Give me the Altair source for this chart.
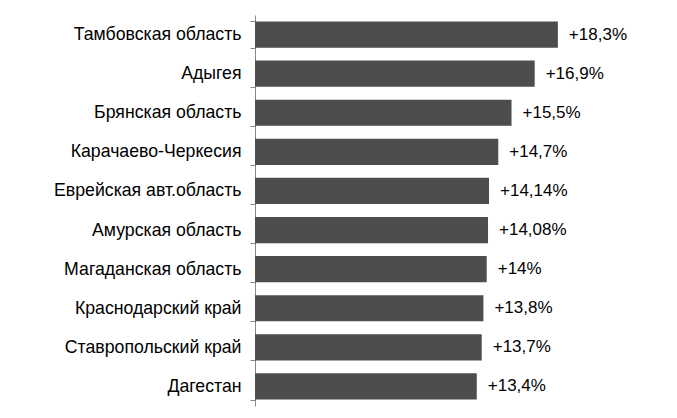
import altair as alt
import pandas as pd

regions = ["Тамбовская область", "Адыгея", "Брянская область", "Карачаево-Черкесия",
           "Еврейская авт.область", "Амурская область", "Магаданская область",
           "Краснодарский край", "Ставропольский край", "Дагестан"]
values = [18.3, 16.9, 15.5, 14.7, 14.14, 14.08, 14.0, 13.8, 13.7, 13.4]
labels = ["+18,3%", "+16,9%", "+15,5%", "+14,7%", "+14,14%", "+14,08%", "+14%",
          "+13,8%", "+13,7%", "+13,4%"]

df = pd.DataFrame({"region": regions, "value": values, "label": labels})

y = alt.Y("region:N", sort=regions, title=None,
          scale=alt.Scale(paddingInner=0.33, paddingOuter=0.165),
          axis=alt.Axis(tickBand="extent", domainColor="#888888", tickColor="#888888",
                        tickSize=5, labelFontSize=17.7, labelFont="Liberation Sans",
                        labelColor="#000000", labelPadding=9, labelLimit=300))
x = alt.X("value:Q", scale=alt.Scale(domain=[0, 20]), axis=None)

bars = alt.Chart(df).mark_bar(color="#4d4d4d").encode(x=x, y=y)
text = alt.Chart(df).mark_text(align="left", dx=11, fontSize=17, font="Liberation Sans",
                               color="#000000").encode(x=x, y=y, text="label:N")

chart = (bars + text).properties(
    width=331, height=391,
    autosize=alt.AutoSizeParams(type="none"),
    padding={"left": 247, "top": 7, "right": 80, "bottom": 10},
).configure_view(stroke=None)

chart.save("out.html", embed_options={"renderer": "svg", "actions": False})
